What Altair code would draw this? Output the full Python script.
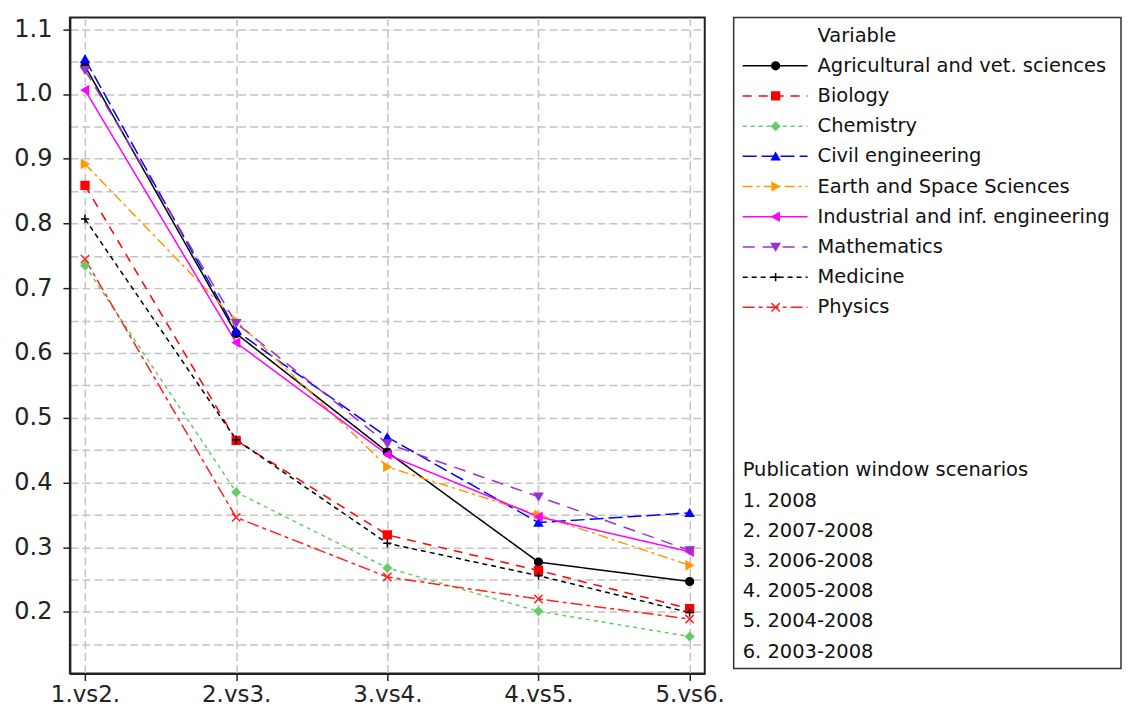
import altair as alt
import pandas as pd

categories = ["1.vs2.", "2.vs3.", "3.vs4.", "4.vs5.", "5.vs6."]
variables = [
    "Agricultural and vet. sciences",
    "Biology",
    "Chemistry",
    "Civil engineering",
    "Earth and Space Sciences",
    "Industrial and inf. engineering",
    "Mathematics",
    "Medicine",
    "Physics",
]

agricultural = [1.043, 0.630, 0.447, 0.277, 0.247]
biology = [0.859, 0.465, 0.319, 0.264, 0.205]
chemistry = [0.735, 0.385, 0.268, 0.201, 0.162]
civil = [1.054, 0.634, 0.470, 0.338, 0.353]
earth = [0.892, 0.650, 0.424, 0.350, 0.272]
industrial = [1.006, 0.616, 0.443, 0.347, 0.293]
mathematics = [1.037, 0.646, 0.460, 0.378, 0.295]
medicine = [0.807, 0.466, 0.306, 0.256, 0.199]
physics = [0.745, 0.346, 0.254, 0.220, 0.189]
series = [agricultural, biology, chemistry, civil, earth, industrial,
          mathematics, medicine, physics]

legend_title = "Variable"
scenario_title = "Publication window scenarios"
scenarios = ["1. 2008", "2. 2007-2008", "3. 2006-2008", "4. 2005-2008",
             "5. 2004-2008", "6. 2003-2008"]

colors = ["#000000", "#ff0000", "#66cc66", "#0000ff", "#ff9900",
          "#ff00ff", "#9933cc", "#000000", "#ff2020"]
shapes = ["circle", "square", "diamond", "triangle-up", "triangle-right",
          "triangle-left", "triangle-down", "M-1,0L1,0M0,-1L0,1",
          "M-1,-1L1,1M-1,1L1,-1"]
dashes = [[1, 0], [9, 7], [4, 4], [14, 5], [10, 4, 3, 4], [1, 0],
          [12, 8], [5, 4], [12, 4, 4, 4]]
sizes = [60, 70, 90, 120, 120, 120, 120, 80, 80]

FONT = "DejaVu Sans"
AXIS_FS = 24
LEG_FS = 19.5

rows = []
for v, vals in zip(variables, series):
    for c, y in zip(categories, vals):
        rows.append({"Variable": v, "Pair": c, "Value": y})
df = pd.DataFrame(rows)

color_scale = alt.Scale(domain=variables, range=colors)
shape_scale = alt.Scale(domain=variables, range=shapes)
dash_scale = alt.Scale(domain=variables, range=dashes)
size_scale = alt.Scale(domain=variables, range=sizes)

y_ticks = [round(0.15 + 0.05 * i, 2) for i in range(20)]
major_test = "abs(datum.value * 10 - round(datum.value * 10)) < 0.01"

x_enc = alt.X(
    "Pair:N", sort=categories,
    scale=alt.Scale(type="point", padding=0.1),
    axis=alt.Axis(title=None, labelAngle=0, labelFont=FONT, labelFontSize=23,
                  labelColor="#222222", tickColor="#222222", tickSize=7,
                  tickWidth=1.5, labelPadding=3, grid=True,
                  gridColor="#c4c4c4", gridDash=[8, 4], gridWidth=1.5,
                  domainColor="#222222", domainWidth=2),
)
y_enc = alt.Y(
    "Value:Q",
    scale=alt.Scale(domain=[0.105, 1.118], nice=False, zero=False),
    axis=alt.Axis(title=None, values=y_ticks,
                  labelExpr=f"({major_test}) ? format(datum.value, '.1f') : ''",
                  labelFont=FONT, labelFontSize=AXIS_FS, labelColor="#222222",
                  tickColor={"condition": {"test": major_test, "value": "#222222"},
                             "value": "transparent"},
                  tickSize=7, tickWidth=1.5, labelPadding=11, minExtent=55,
                  grid=True, gridColor="#c4c4c4", gridDash=[8, 4], gridWidth=1.5,
                  domainColor="#222222", domainWidth=2),
)

lines = alt.Chart(df).mark_line(strokeWidth=1.5).encode(
    x=x_enc, y=y_enc,
    color=alt.Color("Variable:N", scale=color_scale, legend=None),
    strokeDash=alt.StrokeDash("Variable:N", scale=dash_scale, legend=None),
    detail="Variable:N",
)
points = alt.Chart(df).mark_point(filled=True, opacity=1, strokeWidth=1.5).encode(
    x=x_enc, y=y_enc,
    fill=alt.Fill("Variable:N", scale=color_scale, legend=None),
    stroke=alt.Stroke("Variable:N", scale=color_scale, legend=None),
    shape=alt.Shape("Variable:N", scale=shape_scale, legend=None),
    size=alt.Size("Variable:N", scale=size_scale, legend=None),
)
main = alt.layer(lines, points).properties(
    width=636, height=657,
    view=alt.ViewBackground(stroke="#222222", strokeWidth=2),
)

# ---- legend panel ----
leg_df = pd.DataFrame({"Variable": variables,
                       "row": list(range(1, len(variables) + 1))})
txt_df = pd.DataFrame({"label": [legend_title], "row": [0]})
scen_df = pd.DataFrame(
    {"label": [scenario_title] + scenarios,
     "row": [14.4 + i for i in range(len(scenarios) + 1)]}
)
ly = alt.Scale(domain=[-0.595, 20.96], reverse=True, nice=False, zero=False)

leg_rules = alt.Chart(leg_df).mark_rule(strokeWidth=1.5).encode(
    x=alt.value(9), x2=alt.value(74),
    y=alt.Y("row:Q", scale=ly, axis=None),
    color=alt.Color("Variable:N", scale=color_scale, legend=None),
    strokeDash=alt.StrokeDash("Variable:N", scale=dash_scale, legend=None),
)
leg_points = alt.Chart(leg_df).mark_point(filled=True, opacity=1, strokeWidth=1.5).encode(
    x=alt.value(42),
    y=alt.Y("row:Q", scale=ly, axis=None),
    fill=alt.Fill("Variable:N", scale=color_scale, legend=None),
    stroke=alt.Stroke("Variable:N", scale=color_scale, legend=None),
    shape=alt.Shape("Variable:N", scale=shape_scale, legend=None),
    size=alt.Size("Variable:N", scale=size_scale, legend=None),
)
leg_text = alt.Chart(leg_df).mark_text(
    align="left", baseline="middle", font=FONT, fontSize=LEG_FS, color="#111111"
).encode(x=alt.value(84), y=alt.Y("row:Q", scale=ly, axis=None), text="Variable:N")
title_text = alt.Chart(txt_df).mark_text(
    align="left", baseline="middle", font=FONT, fontSize=LEG_FS, color="#111111"
).encode(x=alt.value(84), y=alt.Y("row:Q", scale=ly, axis=None), text="label:N")
scen_text = alt.Chart(scen_df).mark_text(
    align="left", baseline="middle", font=FONT, fontSize=LEG_FS, color="#111111"
).encode(x=alt.value(9), y=alt.Y("row:Q", scale=ly, axis=None), text="label:N")

legend = alt.layer(leg_rules, leg_points, leg_text, title_text, scen_text).properties(
    width=388, height=652,
    view=alt.ViewBackground(stroke="#333333", strokeWidth=1.5),
)

chart = alt.hconcat(main, legend, spacing=29).properties(
    padding={"left": 4, "top": 7, "right": 0, "bottom": 0},
    bounds="flush",
).configure(background="white")

chart.save("out.html", embed_options={"renderer": "svg", "actions": False})
